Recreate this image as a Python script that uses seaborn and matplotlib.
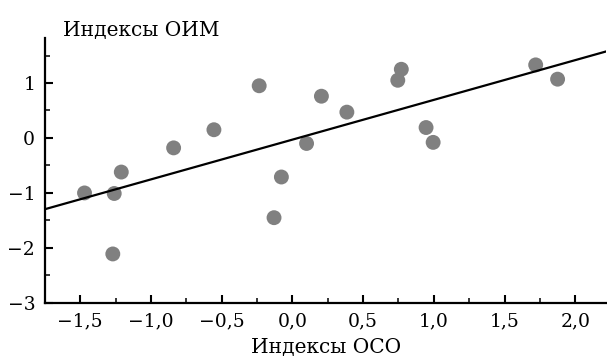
import matplotlib
matplotlib.use("Agg")
import matplotlib.pyplot as plt
import matplotlib.ticker as mticker
import seaborn as sns
import pandas as pd

# Values
oso_index = [-1.47, -1.26, -1.21, -1.27, -0.84, -0.555, -0.235, -0.13, -0.078,
             0.10, 0.205, 0.385, 0.745, 0.77, 0.945, 0.995, 1.72, 1.875]
oim_index = [-1.00, -1.01, -0.62, -2.11, -0.18, 0.15, 0.95, -1.45, -0.71,
             -0.10, 0.76, 0.47, 1.05, 1.25, 0.19, -0.08, 1.33, 1.07]

x_label = "Индексы ОСО"
y_label = "Индексы ОИМ"

df = pd.DataFrame({"oso": oso_index, "oim": oim_index})

sns.set_theme(style="ticks")
plt.rcParams["font.family"] = ["DejaVu Serif", "Liberation Serif"]
plt.rcParams["axes.unicode_minus"] = True
plt.rcParams["text.color"] = "black"
plt.rcParams["axes.labelcolor"] = "black"


def comma_fmt(val, pos, digits):
    s = f"{val:.{digits}f}".replace(".", ",").replace("-", "\u2212")
    if s in ("\u22120,0", "\u22120"):
        s = s[1:]
    return s


fig = plt.figure(figsize=(6.07, 3.58), dpi=100)
ax = fig.add_axes([0.074, 0.154, 0.925, 0.740])
ax.set_xlim(-1.75, 2.22)
ax.set_ylim(-3.0, 1.82)

sns.regplot(data=df, x="oso", y="oim", ax=ax, ci=None, truncate=False,
            scatter_kws=dict(s=115, color="#808080", edgecolor="none", alpha=1),
            line_kws=dict(color="black", lw=1.6))

ax.set_xlim(-1.75, 2.22)
ax.set_ylim(-3.0, 1.82)

ax.xaxis.set_major_locator(mticker.MultipleLocator(0.5))
ax.xaxis.set_minor_locator(mticker.MultipleLocator(0.25))
ax.yaxis.set_major_locator(mticker.MultipleLocator(1))
ax.yaxis.set_minor_locator(mticker.MultipleLocator(0.5))
ax.xaxis.set_major_formatter(mticker.FuncFormatter(lambda v, p: comma_fmt(v, p, 1)))
ax.yaxis.set_major_formatter(mticker.FuncFormatter(lambda v, p: comma_fmt(v, p, 0)))

ax.tick_params(which="major", direction="in", length=6, width=1.5,
               labelsize=13.5, colors="black", pad=7)
ax.tick_params(which="minor", direction="in", length=3.5, width=1.3)

sns.despine(ax=ax)
for side in ("left", "bottom"):
    ax.spines[side].set_linewidth(1.6)
    ax.spines[side].set_color("black")

ax.set_xlabel(x_label, fontsize=14.5, labelpad=5, color="black")
ax.set_ylabel("")
fig.text(0.104, 0.888, y_label, fontsize=14.5, ha="left", va="bottom", color="black")

fig.savefig("out.png", dpi=100, facecolor="white")
